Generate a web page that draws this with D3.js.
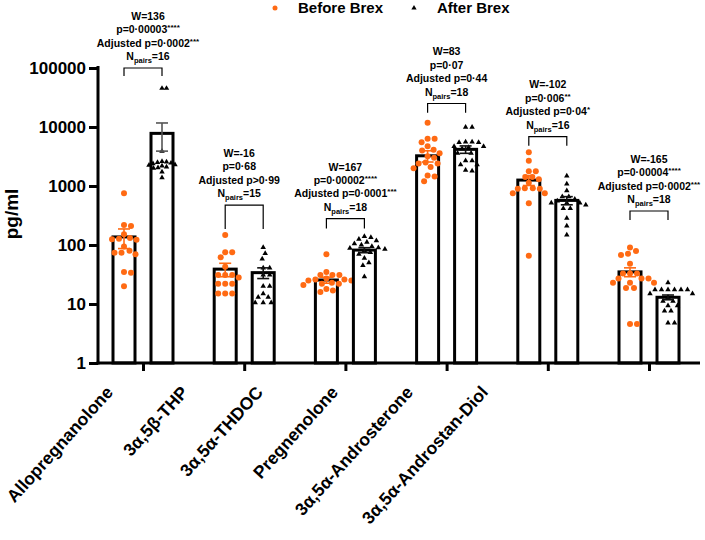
<!DOCTYPE html>
<html><head><meta charset="utf-8">
<script src="https://cdn.jsdelivr.net/npm/d3@7"></script>
<style>
html,body{margin:0;padding:0;background:#fff;}
svg{display:block;font-family:"Liberation Sans",Arial,Helvetica,sans-serif;font-weight:bold;}
</style></head>
<body><svg id="chart" width="705" height="540"></svg>
<script>
// ---------------- data ----------------
const categories = ["Allopregnanolone","3α,5β-THP","3α,5α-THDOC","Pregnenolone","3α,5α-Androsterone","3α,5α-Androstan-Diol"];
const seriesNames = ["Before Brex","After Brex"];
const beforeMean = [137, 39, 25.5, 3250, 1260, 35];
const beforeSem  = [50, 10, 3, 700, 240, 6];
const afterMean  = [7800, 34, 82, 4180, 570, 13];
const afterSem   = [3900, 7, 8, 600, 90, 1.2];
const beforePoints = [
  [752,218,210,152,125,128,132,123,94,80,70,74,74,35,34,20],
  [148,75,75,62,43,31,31,31,28,22,22,22,15,15,15],
  [70,35,31,31,31,27,26,26,25,25,23,22,22,21,21,18,17,16],
  [11800,6300,6300,5500,4700,4100,4000,3600,3200,3000,2500,2400,2400,2100,2000,1500,1450,1200],
  [3720,2680,1770,1770,1420,1420,1300,1140,920,920,900,900,750,750,510,66],
  [91,79,71,68,48,33,33,33,27,27,27,23,23,23,18.6,18.6,4.6,4.6]
];
const afterPoints = [
  [45300,45300,3900,2600,2550,2500,2450,2400,2300,2250,2200,2100,2050,2000,1740,1380],
  [91,72,58,41,41,31,31,20,20,15,13,13,10.5,10.5,10.5],
  [140,135,125,118,112,105,100,95,90,88,85,80,75,70,60,50,45,29],
  [9900,9900,5600,5600,5500,5500,4700,4700,4500,4300,3600,3600,2700,2700,2300,2300,1850,1800],
  [1480,1080,830,660,660,600,560,515,515,515,480,418,418,286,210,148],
  [23,17.5,17.5,17.5,17.5,17.5,17.5,15,15,13,11.2,11.2,9.4,9.4,7.6,7.6,4.8,4.8]
];
const statW = ["136","-16","167","83","-102","-165"];
const statP = ["0·00003","0·68","0·00002","0·07","0·006","0·00004"];
const statPStars = ["****","","****","","**","****"];
const statAdj = ["=0·0002",">0·99","=0·0001","=0·44","=0·04","=0·0002"];
const statAdjStars = ["***","","***","","*","***"];
const nPairs = [16,15,18,18,16,18];
const yTicks = [1,10,100,1000,10000,100000];
// bracket levels (data units, layout of annotations)
const bracketTop = [100000, 475, 279, 25000, 6850, 377];
const bracketLeg = [73000, 186, 190, 17500, 4800, 265];
const textShift = [5, -5, 0, 0, 0, 0];

// ---------------- layout ----------------
const ORANGE = "#FF6A13";
const svg = d3.select("#chart");
const y = d3.scaleLog().domain([1,100000]).range([363,68]);
const x = d3.scalePoint().domain(categories).range([143,649]);
const xLab = d3.scalePoint().domain(categories).range([114,489]);
const off = 19, barW = 22;

function drawSeries(means, sems, pts, dx, isBefore){
  const g = svg.append("g");
  g.selectAll("rect").data(categories).join("rect")
    .attr("x", d => x(d)+dx-barW/2)
    .attr("y", (d,i) => y(means[i]))
    .attr("width", barW)
    .attr("height", (d,i) => y(1)-y(means[i]))
    .attr("fill","#fff").attr("stroke","#000").attr("stroke-width",3);
  categories.forEach((c,i) => {
    const xc = x(c)+dx;
    const placed = [];
    const sorted = pts[i].slice().sort((a,b)=>b-a);
    const dmin = isBefore ? 6.6 : (i===0 ? 4.2 : 6.2);
    sorted.forEach(v => {
      const py = y(v);
      let best = 0;
      for (let k=0;k<80;k++){
        const cands = k===0?[0]:[k*0.5,-k*0.5];
        let ok=false;
        for (const o of cands){
          if (placed.every(p => Math.hypot(p[0]-o,p[1]-py) >= dmin)){ best=o; ok=true; break; }
        }
        if (ok) break;
      }
      placed.push([best,py]);
    });
    placed.forEach(p => {
      if (isBefore){
        g.append("circle").attr("cx", xc+p[0]).attr("cy", p[1]).attr("r",3).attr("fill",ORANGE);
      } else {
        g.append("path").attr("d", d3.symbol(d3.symbolTriangle, 13)())
          .attr("transform", `translate(${xc+p[0]},${p[1]})`).attr("fill","#000");
      }
    });
  });
  categories.forEach((c,i) => {
    const xc = x(c)+dx;
    const lo = y(Math.max(means[i]-sems[i], 1)), hi = y(means[i]+sems[i]);
    const col = isBefore ? ORANGE : (i===0 ? "#555" : "#111");
    const eg = g.append("g").attr("stroke", col).attr("stroke-width", 1.6);
    eg.append("line").attr("x1",xc).attr("x2",xc).attr("y1",lo).attr("y2",hi);
    eg.append("line").attr("x1",xc-6).attr("x2",xc+6).attr("y1",lo).attr("y2",lo);
    eg.append("line").attr("x1",xc-6).attr("x2",xc+6).attr("y1",hi).attr("y2",hi);
  });
}
drawSeries(beforeMean, beforeSem, beforePoints, -off, true);
drawSeries(afterMean, afterSem, afterPoints, off, false);

// y axis
const yAxis = svg.append("g").attr("transform","translate(98,0)")
  .call(d3.axisLeft(y).tickValues(yTicks).tickFormat(d3.format("d")).tickSize(9).tickPadding(3));
yAxis.select(".domain").attr("stroke","#000").attr("stroke-width",3).attr("d","M0,66V364.5");
yAxis.selectAll(".tick line").attr("stroke","#000").attr("stroke-width",3);
yAxis.selectAll(".tick text").attr("font-size",17).attr("font-weight","bold").attr("fill","#000")
  .attr("font-family",'"Liberation Sans",Arial,sans-serif');

// x axis
const xAxis = svg.append("g").attr("transform","translate(0,363)")
  .call(d3.axisBottom(x).tickSize(8).tickFormat(""));
xAxis.select(".domain").attr("stroke","#000").attr("stroke-width",3).attr("d","M96.5,0H700");
xAxis.selectAll(".tick line").attr("stroke","#000").attr("stroke-width",3);

// x labels
svg.append("g").selectAll("text").data(categories).join("text")
  .attr("transform", d => `translate(${xLab(d)},393) rotate(-48)`)
  .attr("text-anchor","end").attr("font-size",17.5).attr("fill","#000").text(d=>d);

// y label
svg.append("text").attr("transform","translate(18,214) rotate(-90)")
  .attr("text-anchor","middle").attr("font-size",19).attr("fill","#000").text("pg/ml");

// annotations
categories.forEach((c,i) => {
  const x1 = x(c)-off, x2 = x(c)+off;
  const yt = y(bracketTop[i]), yl = y(bracketLeg[i]);
  svg.append("path").attr("d", `M${x1},${yl}V${yt}H${x2}V${yl}`)
    .attr("fill","none").attr("stroke","#000").attr("stroke-width",1.2);
  const cx = x(c) + textShift[i];
  const lh = 13.4;
  const base = k => yt - 12 - lh*(3-k) + 4;
  const t = (k) => svg.append("text").attr("x",cx).attr("y",base(k))
    .attr("text-anchor","middle").attr("font-size",10.5).attr("fill","#000");
  t(0).text("W=" + statW[i]);
  const t1 = t(1); t1.append("tspan").text("p=" + statP[i]);
  if (statPStars[i]) t1.append("tspan").attr("font-size",8).attr("dy",-3).text(statPStars[i]);
  const t2 = t(2); t2.append("tspan").text("Adjusted p" + statAdj[i]);
  if (statAdjStars[i]) t2.append("tspan").attr("font-size",8).attr("dy",-3).text(statAdjStars[i]);
  const t3 = t(3); t3.append("tspan").text("N");
  t3.append("tspan").attr("font-size",7.5).attr("dy",3).text("pairs");
  t3.append("tspan").attr("dy",-3).text("=" + nPairs[i]);
});

// legend
const lg = svg.append("g");
lg.append("circle").attr("cx",275).attr("cy",8).attr("r",2.5).attr("fill",ORANGE);
lg.append("text").attr("x",298).attr("y",13).attr("font-size",15).attr("fill","#000").text(seriesNames[0]);
lg.append("path").attr("d", d3.symbol(d3.symbolTriangle, 12)()).attr("transform","translate(414,8)").attr("fill","#000");
lg.append("text").attr("x",437).attr("y",13).attr("font-size",15).attr("fill","#000").text(seriesNames[1]);
</script></body></html>
